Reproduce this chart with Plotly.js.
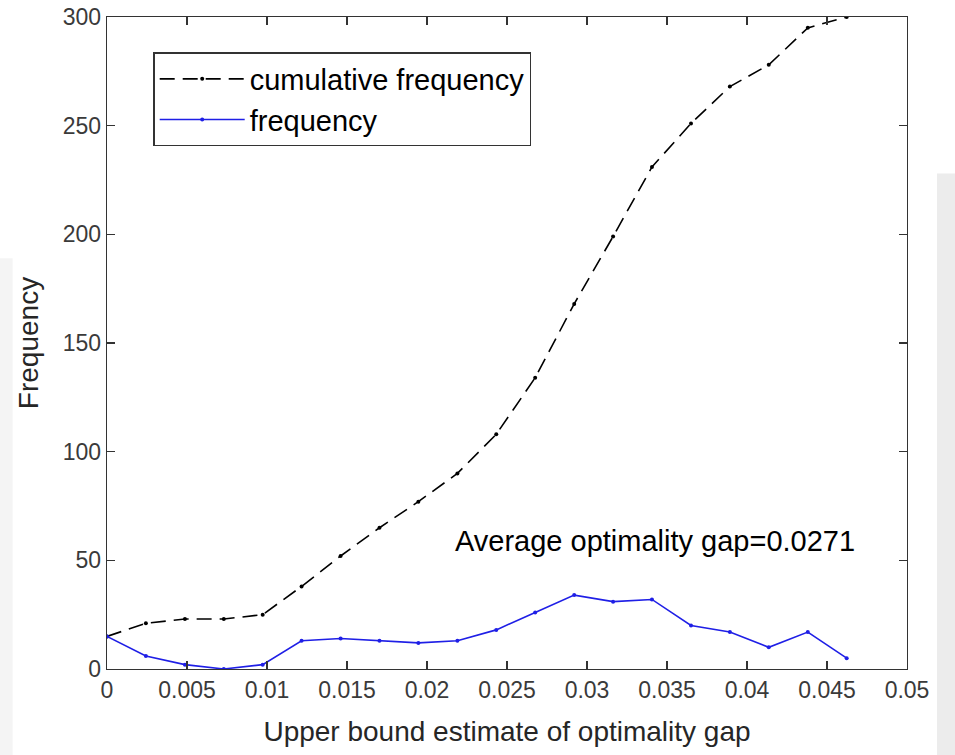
<!DOCTYPE html>
<html>
<head>
<meta charset="utf-8">
<script src="https://cdn.plot.ly/plotly-3.0.1.min.js"></script>
<style>html,body{margin:0;padding:0;background:#fff;}#chart{width:955px;height:755px;}</style>
</head>
<body>
<div id="chart"></div>
<script>
const gapBins = [0, 0.00243, 0.00487, 0.0073, 0.00973, 0.01216, 0.0146, 0.01703, 0.01946, 0.0219, 0.02433, 0.02676, 0.0292, 0.03163, 0.03406, 0.0365, 0.03893, 0.04136, 0.0438, 0.04623];
const frequency = [15, 6, 2, 0, 2, 13, 14, 13, 12, 13, 18, 26, 34, 31, 32, 20, 17, 10, 17, 5];
const cumulativeFrequency = [15, 21, 23, 23, 25, 38, 52, 65, 77, 90, 108, 134, 168, 199, 231, 251, 268, 278, 295, 300];
const seriesNames = ['cumulative frequency', 'frequency'];
const annotationText = 'Average optimality gap=0.0271';
const xTitle = 'Upper bound estimate of optimality gap';
const yTitle = 'Frequency';

const font = '"Liberation Sans", Arial, sans-serif';

const traces = [
  {
    x: gapBins, y: cumulativeFrequency, name: seriesNames[0],
    type: 'scatter', mode: 'lines+markers',
    line: {color: '#000000', width: 1.6, dash: '15px,8px'},
    marker: {color: '#000000', size: 4}
  },
  {
    x: gapBins, y: frequency, name: seriesNames[1],
    type: 'scatter', mode: 'lines+markers',
    line: {color: '#1f1fe6', width: 1.6},
    marker: {color: '#1f1fe6', size: 4}
  }
];

const layout = {
  width: 955, height: 755,
  paper_bgcolor: '#ffffff', plot_bgcolor: '#ffffff',
  margin: {l: 107, r: 48, t: 17, b: 86, pad: 0},
  font: {family: font, color: '#262626'},
  showlegend: true,
  legend: {
    x: 0.058, y: 0.946, xanchor: 'left', yanchor: 'top',
    bgcolor: '#ffffff', bordercolor: '#333333', borderwidth: 1.3,
    font: {family: font, size: 29, color: '#000000'},
    itemwidth: 85, tracegroupgap: 0
  },
  xaxis: {
    range: [0, 0.05], dtick: 0.005, tick0: 0,
    showgrid: false, zeroline: false,
    showline: true, linecolor: '#333333', linewidth: 1.3, mirror: 'ticks',
    ticks: 'inside', ticklen: 8, tickcolor: '#333333', tickwidth: 1.3,
    tickfont: {family: font, size: 23, color: '#3a3a3a'},
    title: {text: xTitle, font: {family: font, size: 28, color: '#262626'}, standoff: 19}
  },
  yaxis: {
    range: [0, 300], dtick: 50, tick0: 0,
    showgrid: false, zeroline: false,
    showline: true, linecolor: '#333333', linewidth: 1.3, mirror: 'ticks',
    ticks: 'inside', ticklen: 8, tickcolor: '#333333', tickwidth: 1.3,
    tickfont: {family: font, size: 23, color: '#3a3a3a'},
    title: {text: yTitle, font: {family: font, size: 28, color: '#262626'}, standoff: 16}
  },
  annotations: [{
    text: annotationText, xref: 'x', yref: 'y', x: 0.03425, y: 59,
    showarrow: false, xanchor: 'center', yanchor: 'middle',
    font: {family: font, size: 29, color: '#000000'}
  }],
  shapes: [
    {
      type: 'rect', xref: 'paper', yref: 'paper', layer: 'below',
      x0: 1.0375, x1: 1.1, y0: -0.2, y1: 0.76,
      fillcolor: '#ececec', line: {width: 0}
    },
    {
      type: 'rect', xref: 'paper', yref: 'paper', layer: 'below',
      x0: -0.14, x1: -0.118, y0: -0.2, y1: 0.63,
      fillcolor: '#f4f4f4', line: {width: 0}
    }
  ]
};

Plotly.newPlot('chart', traces, layout, {displayModeBar: false, staticPlot: true});
</script>
</body>
</html>
